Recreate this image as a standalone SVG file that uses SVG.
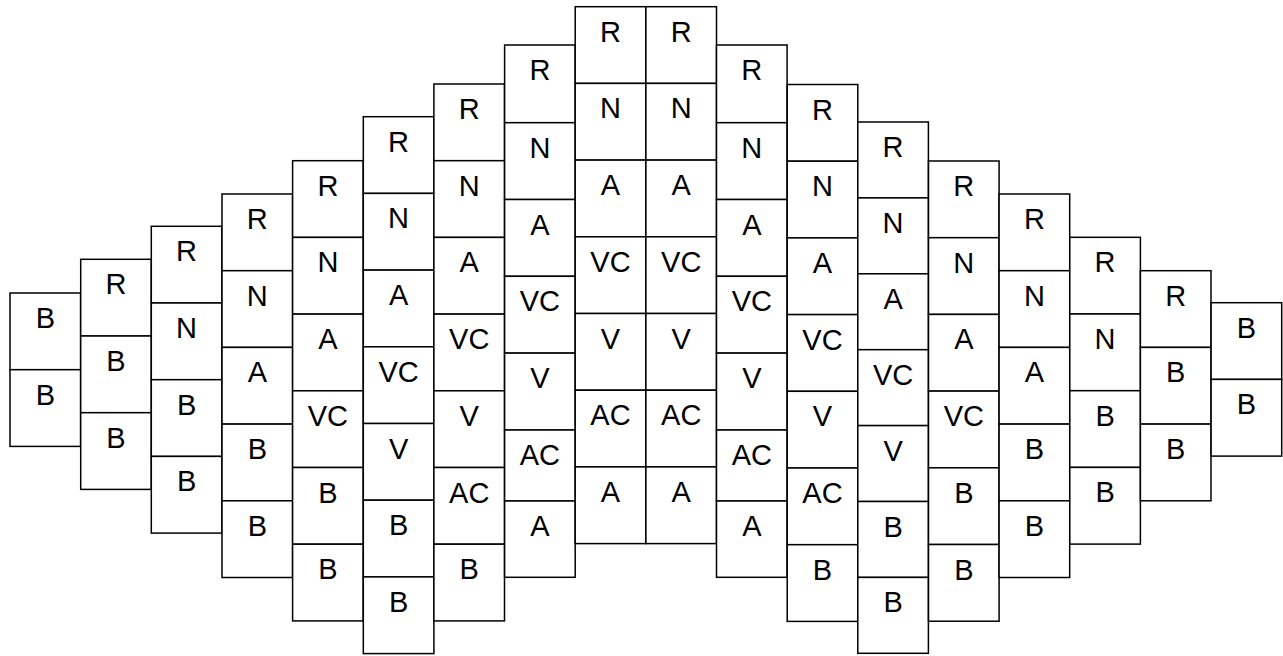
<svg xmlns="http://www.w3.org/2000/svg" width="1283" height="656" viewBox="0 0 1283 656">
<style>
rect{fill:#fff;stroke:#000;stroke-width:1.5}
text{font-family:"Liberation Sans",Arial,sans-serif;font-size:29px;text-anchor:middle;fill:#000}
</style>
<rect x="0" y="0" width="1283" height="656" style="stroke:none"/>
<g id="c1">
<g id="c1-1"><rect x="10" y="293" width="70.6" height="76.7"/><text x="45.3" y="328">B</text></g>
<g id="c1-2"><rect x="10" y="369.7" width="70.6" height="76.7"/><text x="45.3" y="404.7">B</text></g>
</g>
<g id="c2">
<g id="c2-1"><rect x="80.7" y="259.3" width="70.6" height="76.7"/><text x="116" y="294.3">R</text></g>
<g id="c2-2"><rect x="80.7" y="336" width="70.6" height="76.7"/><text x="116" y="371">B</text></g>
<g id="c2-3"><rect x="80.7" y="412.7" width="70.6" height="76.7"/><text x="116" y="447.7">B</text></g>
</g>
<g id="c3">
<g id="c3-1"><rect x="151.3" y="226.3" width="70.6" height="76.7"/><text x="186.6" y="261.3">R</text></g>
<g id="c3-2"><rect x="151.3" y="303" width="70.6" height="76.7"/><text x="186.6" y="338">N</text></g>
<g id="c3-3"><rect x="151.3" y="379.7" width="70.6" height="76.7"/><text x="186.6" y="414.7">B</text></g>
<g id="c3-4"><rect x="151.3" y="456.4" width="70.6" height="76.7"/><text x="186.6" y="491.4">B</text></g>
</g>
<g id="c4">
<g id="c4-1"><rect x="222" y="194" width="70.6" height="76.7"/><text x="257.3" y="229">R</text></g>
<g id="c4-2"><rect x="222" y="270.7" width="70.6" height="76.7"/><text x="257.3" y="305.7">N</text></g>
<g id="c4-3"><rect x="222" y="347.4" width="70.6" height="76.7"/><text x="257.3" y="382.4">A</text></g>
<g id="c4-4"><rect x="222" y="424.1" width="70.6" height="76.7"/><text x="257.3" y="459.1">B</text></g>
<g id="c4-5"><rect x="222" y="500.8" width="70.6" height="76.7"/><text x="257.3" y="535.8">B</text></g>
</g>
<g id="c5">
<g id="c5-1"><rect x="292.6" y="160.7" width="70.6" height="76.7"/><text x="327.9" y="195.7">R</text></g>
<g id="c5-2"><rect x="292.6" y="237.4" width="70.6" height="76.7"/><text x="327.9" y="272.4">N</text></g>
<g id="c5-3"><rect x="292.6" y="314.1" width="70.6" height="76.7"/><text x="327.9" y="349.1">A</text></g>
<g id="c5-4"><rect x="292.6" y="390.8" width="70.6" height="76.7"/><text x="327.9" y="425.8">VC</text></g>
<g id="c5-5"><rect x="292.6" y="467.5" width="70.6" height="76.7"/><text x="327.9" y="502.5">B</text></g>
<g id="c5-6"><rect x="292.6" y="544.2" width="70.6" height="76.7"/><text x="327.9" y="579.2">B</text></g>
</g>
<g id="c6">
<g id="c6-1"><rect x="363.3" y="116.7" width="70.6" height="76.7"/><text x="398.6" y="151.7">R</text></g>
<g id="c6-2"><rect x="363.3" y="193.4" width="70.6" height="76.7"/><text x="398.6" y="228.4">N</text></g>
<g id="c6-3"><rect x="363.3" y="270.1" width="70.6" height="76.7"/><text x="398.6" y="305.1">A</text></g>
<g id="c6-4"><rect x="363.3" y="346.8" width="70.6" height="76.7"/><text x="398.6" y="381.8">VC</text></g>
<g id="c6-5"><rect x="363.3" y="423.5" width="70.6" height="76.7"/><text x="398.6" y="458.5">V</text></g>
<g id="c6-6"><rect x="363.3" y="500.2" width="70.6" height="76.7"/><text x="398.6" y="535.2">B</text></g>
<g id="c6-7"><rect x="363.3" y="576.9" width="70.6" height="76.7"/><text x="398.6" y="611.9">B</text></g>
</g>
<g id="c7">
<g id="c7-1"><rect x="433.9" y="84" width="70.6" height="76.7"/><text x="469.2" y="119">R</text></g>
<g id="c7-2"><rect x="433.9" y="160.7" width="70.6" height="76.7"/><text x="469.2" y="195.7">N</text></g>
<g id="c7-3"><rect x="433.9" y="237.4" width="70.6" height="76.7"/><text x="469.2" y="272.4">A</text></g>
<g id="c7-4"><rect x="433.9" y="314.1" width="70.6" height="76.7"/><text x="469.2" y="349.1">VC</text></g>
<g id="c7-5"><rect x="433.9" y="390.8" width="70.6" height="76.7"/><text x="469.2" y="425.8">V</text></g>
<g id="c7-6"><rect x="433.9" y="467.5" width="70.6" height="76.7"/><text x="469.2" y="502.5">AC</text></g>
<g id="c7-7"><rect x="433.9" y="544.2" width="70.6" height="76.7"/><text x="469.2" y="579.2">B</text></g>
</g>
<g id="c8">
<g id="c8-1"><rect x="504.6" y="45" width="70.6" height="77.7"/><text x="539.9" y="80">R</text></g>
<g id="c8-2"><rect x="504.6" y="122.7" width="70.6" height="76.8"/><text x="539.9" y="157.7">N</text></g>
<g id="c8-3"><rect x="504.6" y="199.5" width="70.6" height="76.8"/><text x="539.9" y="234.5">A</text></g>
<g id="c8-4"><rect x="504.6" y="276.3" width="70.6" height="76.8"/><text x="539.9" y="311.3">VC</text></g>
<g id="c8-5"><rect x="504.6" y="353.1" width="70.6" height="76.9"/><text x="539.9" y="388.1">V</text></g>
<g id="c8-6"><rect x="504.6" y="430" width="70.6" height="71"/><text x="539.9" y="465">AC</text></g>
<g id="c8-7"><rect x="504.6" y="501" width="70.6" height="76.3"/><text x="539.9" y="536">A</text></g>
</g>
<g id="c9">
<g id="c9-1"><rect x="575.2" y="6.7" width="70.6" height="76.7"/><text x="610.5" y="41.7">R</text></g>
<g id="c9-2"><rect x="575.2" y="83.4" width="70.6" height="76.7"/><text x="610.5" y="118.4">N</text></g>
<g id="c9-3"><rect x="575.2" y="160.1" width="70.6" height="76.7"/><text x="610.5" y="195.1">A</text></g>
<g id="c9-4"><rect x="575.2" y="236.8" width="70.6" height="76.7"/><text x="610.5" y="271.8">VC</text></g>
<g id="c9-5"><rect x="575.2" y="313.5" width="70.6" height="76.7"/><text x="610.5" y="348.5">V</text></g>
<g id="c9-6"><rect x="575.2" y="390.2" width="70.6" height="76.7"/><text x="610.5" y="425.2">AC</text></g>
<g id="c9-7"><rect x="575.2" y="466.9" width="70.6" height="76.7"/><text x="610.5" y="501.9">A</text></g>
</g>
<g id="c10">
<g id="c10-1"><rect x="645.9" y="6.7" width="70.6" height="76.7"/><text x="681.2" y="41.7">R</text></g>
<g id="c10-2"><rect x="645.9" y="83.4" width="70.6" height="76.7"/><text x="681.2" y="118.4">N</text></g>
<g id="c10-3"><rect x="645.9" y="160.1" width="70.6" height="76.7"/><text x="681.2" y="195.1">A</text></g>
<g id="c10-4"><rect x="645.9" y="236.8" width="70.6" height="76.7"/><text x="681.2" y="271.8">VC</text></g>
<g id="c10-5"><rect x="645.9" y="313.5" width="70.6" height="76.7"/><text x="681.2" y="348.5">V</text></g>
<g id="c10-6"><rect x="645.9" y="390.2" width="70.6" height="76.7"/><text x="681.2" y="425.2">AC</text></g>
<g id="c10-7"><rect x="645.9" y="466.9" width="70.6" height="76.7"/><text x="681.2" y="501.9">A</text></g>
</g>
<g id="c11">
<g id="c11-1"><rect x="716.5" y="45" width="70.6" height="77.7"/><text x="751.8" y="80">R</text></g>
<g id="c11-2"><rect x="716.5" y="122.7" width="70.6" height="76.8"/><text x="751.8" y="157.7">N</text></g>
<g id="c11-3"><rect x="716.5" y="199.5" width="70.6" height="76.8"/><text x="751.8" y="234.5">A</text></g>
<g id="c11-4"><rect x="716.5" y="276.3" width="70.6" height="76.8"/><text x="751.8" y="311.3">VC</text></g>
<g id="c11-5"><rect x="716.5" y="353.1" width="70.6" height="76.9"/><text x="751.8" y="388.1">V</text></g>
<g id="c11-6"><rect x="716.5" y="430" width="70.6" height="71"/><text x="751.8" y="465">AC</text></g>
<g id="c11-7"><rect x="716.5" y="501" width="70.6" height="76.3"/><text x="751.8" y="536">A</text></g>
</g>
<g id="c12">
<g id="c12-1"><rect x="787.2" y="84.5" width="70.6" height="76.7"/><text x="822.5" y="119.5">R</text></g>
<g id="c12-2"><rect x="787.2" y="161.2" width="70.6" height="76.7"/><text x="822.5" y="196.2">N</text></g>
<g id="c12-3"><rect x="787.2" y="237.9" width="70.6" height="76.7"/><text x="822.5" y="272.9">A</text></g>
<g id="c12-4"><rect x="787.2" y="314.6" width="70.6" height="76.7"/><text x="822.5" y="349.6">VC</text></g>
<g id="c12-5"><rect x="787.2" y="391.3" width="70.6" height="76.7"/><text x="822.5" y="426.3">V</text></g>
<g id="c12-6"><rect x="787.2" y="468" width="70.6" height="76.7"/><text x="822.5" y="503">AC</text></g>
<g id="c12-7"><rect x="787.2" y="544.7" width="70.6" height="76.7"/><text x="822.5" y="579.7">B</text></g>
</g>
<g id="c13">
<g id="c13-1"><rect x="857.8" y="122" width="70.6" height="75.9"/><text x="893.1" y="157">R</text></g>
<g id="c13-2"><rect x="857.8" y="197.9" width="70.6" height="75.9"/><text x="893.1" y="232.9">N</text></g>
<g id="c13-3"><rect x="857.8" y="273.8" width="70.6" height="75.9"/><text x="893.1" y="308.8">A</text></g>
<g id="c13-4"><rect x="857.8" y="349.7" width="70.6" height="75.9"/><text x="893.1" y="384.7">VC</text></g>
<g id="c13-5"><rect x="857.8" y="425.6" width="70.6" height="75.9"/><text x="893.1" y="460.6">V</text></g>
<g id="c13-6"><rect x="857.8" y="501.5" width="70.6" height="75.9"/><text x="893.1" y="536.5">B</text></g>
<g id="c13-7"><rect x="857.8" y="577.4" width="70.6" height="75.9"/><text x="893.1" y="612.4">B</text></g>
</g>
<g id="c14">
<g id="c14-1"><rect x="928.5" y="161" width="70.6" height="76.7"/><text x="963.8" y="196">R</text></g>
<g id="c14-2"><rect x="928.5" y="237.7" width="70.6" height="76.7"/><text x="963.8" y="272.7">N</text></g>
<g id="c14-3"><rect x="928.5" y="314.4" width="70.6" height="76.7"/><text x="963.8" y="349.4">A</text></g>
<g id="c14-4"><rect x="928.5" y="391.1" width="70.6" height="76.7"/><text x="963.8" y="426.1">VC</text></g>
<g id="c14-5"><rect x="928.5" y="467.8" width="70.6" height="76.7"/><text x="963.8" y="502.8">B</text></g>
<g id="c14-6"><rect x="928.5" y="544.5" width="70.6" height="76.7"/><text x="963.8" y="579.5">B</text></g>
</g>
<g id="c15">
<g id="c15-1"><rect x="999.1" y="194" width="70.6" height="76.7"/><text x="1034.4" y="229">R</text></g>
<g id="c15-2"><rect x="999.1" y="270.7" width="70.6" height="76.7"/><text x="1034.4" y="305.7">N</text></g>
<g id="c15-3"><rect x="999.1" y="347.4" width="70.6" height="76.7"/><text x="1034.4" y="382.4">A</text></g>
<g id="c15-4"><rect x="999.1" y="424.1" width="70.6" height="76.7"/><text x="1034.4" y="459.1">B</text></g>
<g id="c15-5"><rect x="999.1" y="500.8" width="70.6" height="76.7"/><text x="1034.4" y="535.8">B</text></g>
</g>
<g id="c16">
<g id="c16-1"><rect x="1069.8" y="237.3" width="70.6" height="76.7"/><text x="1105.1" y="272.3">R</text></g>
<g id="c16-2"><rect x="1069.8" y="314" width="70.6" height="76.7"/><text x="1105.1" y="349">N</text></g>
<g id="c16-3"><rect x="1069.8" y="390.7" width="70.6" height="76.7"/><text x="1105.1" y="425.7">B</text></g>
<g id="c16-4"><rect x="1069.8" y="467.4" width="70.6" height="76.7"/><text x="1105.1" y="502.4">B</text></g>
</g>
<g id="c17">
<g id="c17-1"><rect x="1140.4" y="270.7" width="70.6" height="76.7"/><text x="1175.7" y="305.7">R</text></g>
<g id="c17-2"><rect x="1140.4" y="347.4" width="70.6" height="76.7"/><text x="1175.7" y="382.4">B</text></g>
<g id="c17-3"><rect x="1140.4" y="424.1" width="70.6" height="76.7"/><text x="1175.7" y="459.1">B</text></g>
</g>
<g id="c18">
<g id="c18-1"><rect x="1211.1" y="302.7" width="70.6" height="76.7"/><text x="1246.4" y="337.7">B</text></g>
<g id="c18-2"><rect x="1211.1" y="379.4" width="70.6" height="76.7"/><text x="1246.4" y="414.4">B</text></g>
</g>
</svg>
